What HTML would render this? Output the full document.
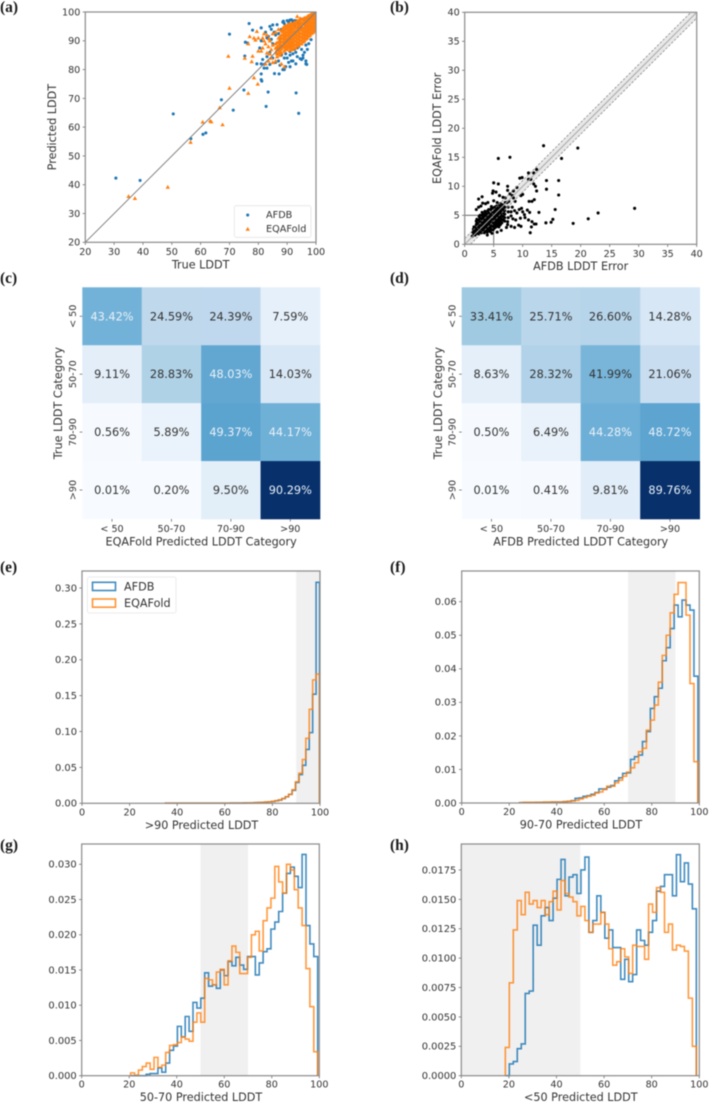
<!DOCTYPE html>
<html lang="en">
<head>
<meta charset="utf-8">
<title>LDDT comparison of AFDB and EQAFold</title>
<style>
html,body{margin:0;padding:0;background:#fff;width:709px;height:1103px;overflow:hidden}
#figure{display:block;filter:blur(0.45px)}
text{font-family:"DejaVu Sans","Liberation Sans",sans-serif;fill:#333}
.panel-tag{font-family:"Liberation Serif",serif;font-weight:bold;font-size:15.5px;fill:#1a1a1a}
</style>
</head>
<body>
<svg id="figure" xmlns="http://www.w3.org/2000/svg" width="709" height="1103" viewBox="0 0 709 1103">
<text class="panel-tag" x="0" y="12">(a)</text>
<text class="panel-tag" x="390" y="12">(b)</text>
<text class="panel-tag" x="0" y="283">(c)</text>
<text class="panel-tag" x="390" y="283">(d)</text>
<text class="panel-tag" x="0" y="572">(e)</text>
<text class="panel-tag" x="390" y="572">(f)</text>
<text class="panel-tag" x="0" y="850">(g)</text>
<text class="panel-tag" x="390" y="850">(h)</text>
</svg>
<script>
// ---------- panel (a) data: [true LDDT, predicted LDDT]
const afdbScatter = [[30.6,42.3],[39,41.5],[50.5,64.6],[56.6,56],[60.8,57.5],[61.8,58],[67.2,69.5],[71.3,65.9],[75,72.9],[82.7,67.2],[83.4,72.2],[93.1,71.9],[94,64.8],[70,92.3],[76.8,96],[78,93.7],[81,94.5],[75.5,89.5],[76.3,89.2],[75.3,84.7],[79.5,82],[81,82],[81,78.5],[81,76.5],[81.2,76],[85.6,78.6],[87.2,78.5],[88.5,80],[89,80],[91,81],[91.5,83],[93,82],[95.5,84],[96.5,82],[96.8,81.8],[94.5,83.8],[84,95],[84.5,94],[85,95.5],[85.5,93],[86,92],[86.5,95.6],[87,92.5],[87.5,91],[88,94],[88.5,96.5],[89,96],[89.5,95],[90,97],[90.5,96.5],[91,97.2],[91.5,97.3],[92,96.5],[92.5,97],[93,97],[93.5,96.3],[94,95.3],[94.5,96],[95,97.5],[96,97.5],[97,98],[98,98.3],[83,91],[82.5,93],[83.5,91.5],[84.5,90.5],[85,89],[81,90],[80.5,87.5],[81.5,83.5],[83,84.5],[84,86],[85,84],[84,81.8],[86,82.5],[87,83],[87.5,81.5],[88,85],[89,84],[89.5,85.5],[90,84],[91,85],[92,85.5],[92.5,87],[93,86],[93.5,87.5],[94,88],[95,87],[95.5,85],[96,86],[97,87],[97.5,89],[98.3,90.4],[96.5,83],[95,83.5],[93.5,84.5],[92,83],[90.5,82.5],[89.5,81],[82,80.5],[83,80.5],[82,81.8],[88.7,96.8],[90.8,95.8],[92.7,95.5],[94.8,94.6],[87.5,90],[86.5,87],[91,86.3],[96.5,88.5]];
const eqafoldOutliers = [[35,36],[37.2,35.3],[48.6,39.2],[56.5,54.8],[60.7,61.8],[63.3,62.2],[63.7,61.9],[67.6,60.9],[66.6,66.8],[69.6,84.7],[70,73.6],[75.3,84],[76.5,71.8],[76.5,89],[77,91.5],[77.7,82.8],[78,84.7],[78.5,77.2],[79.8,75],[79.5,93.3],[80,91],[80,86.5],[81,86.5],[81.5,87.5],[82,92.5],[81.5,91],[82,90],[82.5,89],[83,92],[83.5,88],[84,90],[84.5,87],[85,92.5],[85,88.5],[83,85.8],[84,85.5],[84.5,84],[83.5,83],[85,82.5],[82.5,82],[86,83],[86.5,84.5],[88,82],[89,81],[87.5,85],[88,85.8],[86,93],[87,94],[93.5,98.5],[94.5,97.8],[78.5,91],[79,90.3],[83.7,90.7]];
const eqafoldCloud = [[86,86],[86,87.5],[86,89],[87,85.8],[87,87],[87,88.2],[87,89.5],[87,91],[88,86],[88,87.2],[88,88.4],[88,89.6],[88,90.8],[88,92],[88,93.5],[89,86.5],[89,87.8],[89,89],[89,90.2],[89,91.4],[89,92.6],[89,93.8],[89,95],[90,87],[90,88.2],[90,89.4],[90,90.6],[90,91.8],[90,93],[90,94.2],[90,95.4],[91,86.8],[91,88],[91,89.2],[91,90.4],[91,91.6],[91,92.8],[91,94],[91,95.2],[91,96],[92,87],[92,88.2],[92,89.4],[92,90.6],[92,91.8],[92,93],[92,94.2],[92,95.4],[92,96],[93,87.5],[93,88.7],[93,89.9],[93,91.1],[93,92.3],[93,93.5],[93,94.7],[93,95.9],[93,96.5],[94,88.5],[94,89.7],[94,90.9],[94,92.1],[94,93.3],[94,94.5],[94,95.7],[94,97],[95,89],[95,90.2],[95,91.4],[95,92.6],[95,93.8],[95,95],[95,96.2],[95,97.5],[96,90],[96,91.2],[96,92.4],[96,93.6],[96,94.8],[96,96],[96,97.2],[96,98],[97,91],[97,92.2],[97,93.4],[97,94.6],[97,95.8],[97,97],[97,98.5],[98,92],[98,93.2],[98,94.4],[98,95.6],[98,96.8],[98,98],[98,99],[99,93],[99,94.2],[99,95.4],[99,96.6],[99,97.8],[99,99],[99,99.5],[100,94],[100,95.2],[100,96.4],[100,97.6],[100,98.8],[100,100],[86.5,85.5],[87.5,86.5],[88.5,87.8],[89.5,88.6],[90.5,89.8],[91.5,91],[92.5,92.2],[93.5,93.4],[94.5,94.6],[95.5,95.8],[96.5,97],[97.5,98.1],[98.5,99]];
const eqafoldCloudInner = [[86.5,86.8],[86.5,88],[86.5,89.4],[87.5,87.6],[87.5,88.8],[87.5,90],[87.5,91.5],[88.5,88.4],[88.5,89.6],[88.5,90.8],[88.5,92],[88.5,93.2],[88.5,94.4],[89.5,87.2],[89.5,88],[89.5,90],[89.5,91],[89.5,92],[89.5,93],[89.5,94.2],[89.5,95.2],[90.5,87.6],[90.5,88.8],[90.5,91],[90.5,92.2],[90.5,93.4],[90.5,94.6],[90.5,95.7],[91.5,87.4],[91.5,88.6],[91.5,89.8],[91.5,92.2],[91.5,93.4],[91.5,94.6],[91.5,95.8],[92.5,87.6],[92.5,88.8],[92.5,90],[92.5,91.2],[92.5,93.4],[92.5,94.6],[92.5,95.8],[92.5,96.4],[93.5,88.2],[93.5,89.4],[93.5,90.6],[93.5,91.8],[93.5,93],[93.5,94.6],[93.5,95.8],[93.5,97],[94.5,89],[94.5,90.2],[94.5,91.4],[94.5,92.6],[94.5,93.8],[94.5,95.4],[94.5,96.6],[94.5,97.4],[95.5,89.6],[95.5,90.8],[95.5,92],[95.5,93.2],[95.5,94.4],[95.5,96.4],[95.5,97.6],[96.5,90.6],[96.5,91.8],[96.5,93],[96.5,94.2],[96.5,95.4],[96.5,96.6],[96.5,98],[97.5,91.6],[97.5,92.8],[97.5,94],[97.5,95.2],[97.5,96.4],[97.5,97.5],[97.5,98.8],[98.5,92.6],[98.5,93.8],[98.5,95],[98.5,96.2],[98.5,97.4],[98.5,98.5],[98.5,99.4],[99.5,93.4],[99.5,94.6],[99.5,95.8],[99.5,97],[99.5,98.2],[99.5,99.4]];
const scatterTicksX = [20,30,40,50,60,70,80,90,100];
const scatterTicksY = [20,30,40,50,60,70,80,90,100];

// ---------- panel (b) data: [AFDB error, EQAFold error]
const errorOutliers = [[13.6,17],[19.5,16.6],[5.8,14.8],[7.8,15],[16.7,14.8],[29.3,6.2],[23,5.4],[21.3,4.4],[18.7,3.6],[15.6,6],[16.2,8.5],[16.2,11],[14.1,11],[14.1,9.5],[12.4,12.9],[11,12.3],[11.9,12.3],[9.5,11.4],[9.9,11.5],[11,11.2],[11.4,11.2],[11.9,10.4],[12.2,10],[12.4,9.2],[5,10.6],[5.8,10.4],[7.4,10],[7.4,9.3],[8.4,9.2],[9,9.8],[9.7,8.4],[10,8.6],[11.1,7.4],[11.6,7.4],[12,7.7],[12.8,5.5],[14,3.7],[14.9,3.8],[15.2,4.3],[12.3,3.5],[12,3.5],[11.5,3],[11.3,2],[2.4,7.8],[3,8.2],[3.1,7.1],[3.6,7],[4,7.2],[2.4,6.4],[4.8,8.8],[4.9,9.2],[5.4,9],[6.6,8.1],[4.6,6.5],[8.2,8.4],[7.8,8.7],[8.7,7.4],[9.4,6],[9,5.4],[9.8,6.2],[10,5.6],[10.3,5.1],[10.8,5.9],[11.2,5.5],[8,4.9],[8.3,4.4],[8.8,4.2],[9.6,4.5],[10.4,4.6],[11,4.2],[11.6,3.9],[7.4,3.4],[8,3.1],[8.6,2.9],[9.3,3.3],[9.7,3.1],[6.3,2.4],[7.2,2.9],[3.9,1.6],[4.7,1.9],[5.6,2.1],[5,7.5],[5.6,7.2],[6,8.4],[7,8],[7.3,7.2],[8.4,8],[2,6],[2.8,6.6]];
const errorCloud = [[1.3,1.4],[1.4,2.1],[1.5,2.6],[1.8,1.6],[1.9,2.2],[1.9,2.8],[2,3.4],[2,4],[2.4,1.8],[2.4,2.4],[2.4,3],[2.4,3.6],[2.4,4.2],[2.5,4.8],[2.9,2],[2.9,2.6],[2.9,3.2],[2.9,3.8],[2.9,4.4],[3,5],[3,5.5],[3.4,2],[3.4,2.6],[3.4,3.2],[3.4,3.8],[3.4,4.4],[3.5,5],[3.5,5.7],[3.9,2.1],[3.9,2.7],[3.9,3.3],[3.9,3.9],[3.9,4.5],[4,5.1],[4,5.8],[4.4,2.2],[4.4,2.8],[4.4,3.4],[4.4,4],[4.4,4.6],[4.5,5.2],[4.5,6],[4.9,2.5],[4.9,3.1],[4.9,3.7],[4.9,4.3],[4.9,4.9],[5,5.5],[5,6.2],[5.4,3],[5.4,3.6],[5.4,4.2],[5.4,4.8],[5.4,5.4],[5.5,6],[5.5,6.6],[5.9,3],[5.9,3.6],[5.9,4.2],[5.9,4.8],[5.9,5.4],[6,6],[6,6.8],[6.4,3.7],[6.4,4.3],[6.4,4.9],[6.4,5.5],[6.4,6.1],[6.5,6.8],[6.9,4],[6.9,4.6],[6.9,5.2],[6.9,5.8],[6.9,6.4],[7,7.2],[7.4,3.9],[7.5,4.6],[7.5,5.6],[7.5,6.4],[7.6,7.4],[8,5.6],[8.2,6.4],[8.6,5.8]];
const errorCloudInner = [[1.6,1.8],[1.6,2.4],[1.6,3],[2.1,1.9],[2.1,2.5],[2.1,3.1],[2.1,3.7],[2.1,4.3],[2.65,2.1],[2.65,2.7],[2.65,3.3],[2.65,3.9],[2.65,4.5],[2.65,5],[3.15,2.3],[3.15,2.9],[3.15,3.5],[3.15,4.1],[3.15,4.7],[3.15,5.3],[3.65,2.3],[3.65,2.9],[3.65,3.5],[3.65,4.1],[3.65,4.7],[3.65,5.4],[4.15,2.4],[4.15,3],[4.15,3.6],[4.15,4.2],[4.15,4.8],[4.15,5.4],[4.15,6],[4.65,2.5],[4.65,3.1],[4.65,3.7],[4.65,4.3],[4.65,4.9],[4.65,5.5],[4.65,6.2],[5.15,2.8],[5.15,3.4],[5.15,4],[5.15,4.6],[5.15,5.2],[5.15,5.8],[5.15,6.4],[5.65,3.3],[5.65,3.9],[5.65,4.5],[5.65,5.1],[5.65,5.7],[5.65,6.3],[6.15,3.4],[6.15,4],[6.15,4.6],[6.15,5.2],[6.15,5.8],[6.15,6.4],[6.15,7],[6.65,4.2],[6.65,4.8],[6.65,5.4],[6.65,6],[6.65,6.6]];
const errorTicks = [0,5,10,15,20,25,30,35,40];

// ---------- panels (c)(d) data
const categoryLabels = ["< 50","50-70","70-90",">90"];
const eqafoldMatrix = [[43.42,24.59,24.39,7.59],[9.11,28.83,48.03,14.03],[0.56,5.89,49.37,44.17],[0.01,0.20,9.50,90.29]];
const afdbMatrix = [[33.41,25.71,26.60,14.28],[8.63,28.32,41.99,21.06],[0.50,6.49,44.28,48.72],[0.01,0.41,9.81,89.76]];

// ---------- panel (e) histogram >90
const histEStart = 35, histEWidth = 1.44;
const histEAfdb = [.0001,.0001,.0001,.0001,.0001,.0001,.0001,.0001,.0001,.0001,.0001,.0001,.0001,.0001,.0002,.0002,.0002,.0002,.0002,.0003,.0003,.0004,.0004,.0005,.0006,.0007,.0008,.001,.0013,.0016,.002,.0025,.0035,.0045,.0065,.009,.0125,.018,.029,.04,.053,.075,.0985,.152,.308];
const histEEqa = [.0001,.0001,.0001,.0001,.0001,.0001,.0001,.0001,.0001,.0001,.0001,.0001,.0001,.0001,.0002,.0002,.0002,.0002,.0002,.0003,.0003,.0004,.0004,.0005,.0006,.0007,.0009,.0011,.0014,.0017,.0021,.0027,.0037,.0047,.0067,.0092,.0125,.019,.03,.042,.061,.0905,.131,.172,.18];
// ---------- panel (f) histogram 70-90
const histFStart = 24.4, histFWidth = 1.667;
const histFAfdb = [.0001,.0001,.0001,.0001,.0002,.0002,.0002,.0002,.0003,.0003,.0003,.0004,.0005,.0007,.0014,.0015,.002,.0022,.0026,.0031,.0042,.0042,.0047,.0052,.0066,.0075,.0088,.009,.013,.0138,.0143,.0183,.0213,.0282,.0317,.0342,.0424,.0463,.052,.059,.0555,.0605,.059,.0575,.0378];
const histFEqa = [.0001,.0002,.0002,.0002,.0002,.0002,.0003,.0003,.0003,.0003,.0003,.0004,.0005,.0006,.0008,.0012,.0016,.002,.0023,.003,.0033,.004,.005,.005,.006,.0068,.008,.0092,.0105,.012,.0153,.0163,.0217,.0247,.0292,.036,.044,.05,.0567,.0622,.0657,.0657,.056,.0356,.0123];
// ---------- panel (g) histogram 50-70
const histGStart = 20.6, histGWidth = 1.64;
const histGAfdb = [0,0,0,0,.0002,.0003,.0003,.0011,.0005,.0018,.0036,.0042,.007,.0055,.0084,.0063,.0104,.0096,.011,.0146,.0127,.0129,.0124,.015,.0142,.0162,.0156,.0168,.0157,.0151,.0169,.0169,.0143,.016,.0176,.018,.0208,.0218,.0233,.0259,.0287,.0296,.0283,.0267,.0314,.0213,.0187,.0169];
const histGEqa = [.0004,.0001,.0008,.0013,.0018,.0009,.0026,.0012,.0015,.0033,.0043,.0044,.0047,.0055,.0052,.0049,.0076,.0089,.0076,.0138,.0136,.0129,.0147,.0151,.0129,.0163,.0184,.0175,.0145,.0145,.0168,.02,.0205,.0177,.022,.0238,.0252,.0297,.0275,.0259,.03,.0292,.0264,.0238,.0213,.0152,.0098,.0034];
// ---------- panel (h) histogram <50
const histHStart = 18.5, histHWidth = 1.672;
const histHAfdb = [0,.001,.0012,.0023,.0027,.007,.0072,.0128,.0111,.0136,.0143,.0132,.0151,.0167,.0184,.0153,.0169,.0171,.0155,.0175,.0186,.0122,.0132,.0153,.0139,.0117,.0124,.0109,.0109,.0082,.0099,.008,.0086,.0124,.0115,.0111,.0122,.0132,.0157,.0161,.0171,.0171,.0153,.0188,.0165,.0181,.0163,.0142];
const histHEqa = [.0024,.0079,.0124,.0149,.0137,.0156,.0146,.0149,.0143,.0149,.0137,.0148,.0157,.0141,.0166,.0155,.0152,.0148,.0136,.0144,.0132,.0122,.0129,.0129,.0139,.0129,.0108,.0094,.0097,.0108,.0101,.0087,.0111,.011,.011,.0099,.0146,.0139,.016,.0156,.0122,.0129,.0107,.0111,.011,.0106,.0066,.0025];

const histTicksX = [0,20,40,60,80,100];
const histETicksY = [0,.05,.1,.15,.2,.25,.3];
const histFTicksY = [0,.01,.02,.03,.04,.05,.06];
const histGTicksY = [0,.005,.01,.015,.02,.025,.03];
const histHTicksY = [0,.0025,.005,.0075,.01,.0125,.015,.0175];
const legendNames = ["AFDB","EQAFold"];

// ---------- drawing helpers
const NS = "http://www.w3.org/2000/svg";
const root = document.getElementById("figure");
const SPINE = "#8a8a8a";
const BLUE = "#1f77b4";
const ORANGE = "#ff7f0e";
function mk(parent, tag, attrs, content) {
  const e = document.createElementNS(NS, tag);
  for (const k in attrs) e.setAttribute(k, attrs[k]);
  if (content !== undefined) e.textContent = content;
  parent.appendChild(e);
  return e;
}
function scale(d0, d1, r0, r1) { return v => r0 + (v - d0) / (d1 - d0) * (r1 - r0); }

function group(name) {
  const g = mk(root, "g", {});
  
  
  return g;
}

function axes(g, p, xs, ys, o) {
  const t = mk(g, "g", {});
  
  
  o.xTicks.forEach(v => {
    const x = xs(v);
    const tick = mk(t, "line", {x1:x, x2:x, y1:p.b, y2:p.b + 2.6, stroke:"#555", "stroke-width":.7});
    
    
    const lab = mk(t, "text", {x:x, y:o.xTickY, "text-anchor":"middle", "font-size":o.tickSize}, String(v));
    
    
  });
  o.yTicks.forEach(v => {
    const y = ys(v);
    const tick = mk(t, "line", {x1:p.l - 2.6, x2:p.l, y1:y, y2:y, stroke:"#555", "stroke-width":.7});
    
    
    const lab = mk(t, "text", {x:p.l - 5, y:y + 3.4, "text-anchor":"end", "font-size":o.yTickSize || o.tickSize}, o.yFmt(v));
    
    
  });
  const frame = mk(g, "rect", {x:p.l, y:p.t, width:p.r - p.l, height:p.b - p.t, fill:"none", stroke:SPINE, "stroke-width":1.2});
  
  
  axisTitles(g, o.xLabel, (p.l + p.r) / 2 + (o.xLabelShift || 0), o.xLabelY, o.yLabel, o.yLabelX, (p.t + p.b) / 2);
}

function axisTitles(g, xLabel, xPos, yPos, yLabel, yLabelX, yCenter) {
  const xt = mk(g, "text", {x:xPos, y:yPos, "text-anchor":"middle", "font-size":11.2}, xLabel);
  
  
  if (yLabel) {
    const yt = mk(g, "text", {x:yLabelX, y:yCenter, "text-anchor":"middle", "font-size":11.2, transform:"rotate(-90 " + yLabelX + " " + yCenter + ")"}, yLabel);
    
    
  }
}

// ---------- panel (a)
(function () {
  const p = {l:85.3, r:316, t:12, b:242.3};
  const xs = scale(20, 100, p.l, p.r), ys = scale(20, 100, p.b, p.t);
  const g = group("scatter-predicted-vs-true");
  const clip = mk(g, "clipPath", {id:"clipA"});
  mk(clip, "rect", {x:p.l, y:p.t, width:p.r - p.l, height:p.b - p.t});
  const plot = mk(g, "g", {"clip-path":"url(#clipA)"});
  
  
  afdbScatter.forEach(d => {
    const c = mk(plot, "circle", {cx:xs(d[0]), cy:ys(d[1]), r:1.55, fill:BLUE});
    
    
  });
  eqafoldOutliers.concat(eqafoldCloud, eqafoldCloudInner).forEach(d => {
    const x = xs(d[0]), y = ys(d[1]);
    const c = mk(plot, "polygon", {points:(x) + "," + (y - 2.1) + " " + (x - 2.2) + "," + (y + 1.7) + " " + (x + 2.2) + "," + (y + 1.7), fill:ORANGE});
    
    
  });
  const diag = mk(g, "line", {x1:xs(20), y1:ys(20), x2:xs(100), y2:ys(100), stroke:"#808080", "stroke-width":1});
  
  
  axes(g, p, xs, ys, {xTicks:scatterTicksX, yTicks:scatterTicksY, yFmt:String, tickSize:9.6, xTickY:255, xLabel:"True LDDT", xLabelY:268.5, yLabel:"Predicted LDDT", yLabelX:56});
  const lg = mk(g, "g", {});
  
  
  const box = mk(lg, "rect", {x:234.3, y:205.7, width:76.7, height:31.6, rx:2, fill:"#fff", stroke:"#e4e4e4", "stroke-width":.8});
  
  
  const m1 = mk(lg, "circle", {cx:247.7, cy:215, r:1.55, fill:BLUE});
  
  
  const m2 = mk(lg, "polygon", {points:"247.7,226.9 245.5,230.7 249.9,230.7", fill:ORANGE});
  
  
  const t1 = mk(lg, "text", {x:266, y:218, "font-size":9.7}, legendNames[0]);
  
  
  const t2 = mk(lg, "text", {x:266, y:232, "font-size":9.7}, legendNames[1]);
  
  
})();

// ---------- panel (b)
(function () {
  const p = {l:464.7, r:696.7, t:12.3, b:244.3};
  const xs = scale(0, 40, p.l, p.r), ys = scale(0, 40, p.b, p.t);
  const g = group("scatter-error-comparison");
  const band = mk(g, "polygon", {points:[[0,1],[39,40],[40,40],[40,39],[1,0],[0,0]].map(d => xs(d[0]) + "," + ys(d[1])).join(" "), fill:"#e8e8e8"});
  
  
  const h5 = mk(g, "line", {x1:xs(0), y1:ys(5), x2:xs(5), y2:ys(5), stroke:"#555", "stroke-width":.8});
  
  
  const v5 = mk(g, "line", {x1:xs(5), y1:ys(0), x2:xs(5), y2:ys(5), stroke:"#555", "stroke-width":.8});
  
  
  const pts = mk(g, "g", {});
  
  
  errorOutliers.concat(errorCloud, errorCloudInner).forEach(d => {
    const c = mk(pts, "circle", {cx:xs(d[0]), cy:ys(d[1]), r:1.55, fill:"#000"});
    
    
  });
  const up = mk(g, "line", {x1:xs(0), y1:ys(1), x2:xs(39), y2:ys(40), stroke:"#8a8a8a", "stroke-width":.8, "stroke-dasharray":"2.5 1.5"});
  
  
  const lo = mk(g, "line", {x1:xs(1), y1:ys(0), x2:xs(40), y2:ys(39), stroke:"#8a8a8a", "stroke-width":.8, "stroke-dasharray":"2.5 1.5"});
  
  
  const diag = mk(g, "line", {x1:xs(0), y1:ys(0), x2:xs(40), y2:ys(40), stroke:"#a8a8a8", "stroke-width":1});
  
  
  axes(g, p, xs, ys, {xTicks:errorTicks, yTicks:errorTicks, yFmt:String, tickSize:9.6, xTickY:257, xLabel:"AFDB LDDT Error", xLabelY:270, yLabel:"EQAFold LDDT Error", yLabelX:441});
})();

// ---------- panels (c)(d)
const blueStops = [[247,251,255],[222,235,247],[198,219,239],[158,202,225],[107,174,214],[66,146,198],[33,113,181],[8,81,156],[8,48,107]];
function blues(t) {
  const f = Math.max(0, Math.min(1, t)) * 8, i = Math.min(7, Math.floor(f)), w = f - i;
  const c = blueStops[i].map((v, j) => Math.round(v + (blueStops[i + 1][j] - v) * w));
  return "rgb(" + c.join(",") + ")";
}
function heatmap(name, matrix, p, xLabel, yLabelX, tickX) {
  const g = group(name);
  const xs = scale(0, 4, p.l, p.r), ys = scale(0, 4, p.t, p.b);
  const vmax = Math.max.apply(null, matrix.map(r => Math.max.apply(null, r)));
  matrix.forEach((row, r) => row.forEach((v, c) => {
    const cell = mk(g, "rect", {x:xs(c), y:ys(r), width:xs(c + 1) - xs(c) + .3, height:ys(r + 1) - ys(r) + .3, fill:blues(v / vmax)});
    
    
    const white = v / vmax > .475;
    const lab = mk(g, "text", {x:xs(c + .5), y:ys(r + .5) + 4, "text-anchor":"middle", "font-size":11.3}, v.toFixed(2) + "%");
    lab.style.fill = white ? "#e8f1f8" : "#333";
    
    
  }));
  categoryLabels.forEach((lbl, i) => {
    const x = xs(i + .5), y = ys(i + .5);
    const tx = mk(g, "line", {x1:x, x2:x, y1:p.b, y2:p.b + 2.6, stroke:"#555", "stroke-width":.7});
    
    
    const lx = mk(g, "text", {x:x, y:532, "text-anchor":"middle", "font-size":9.6}, lbl);
    
    
    const ty = mk(g, "line", {x1:p.l - 2.6, x2:p.l, y1:y, y2:y, stroke:"#555", "stroke-width":.7});
    
    
    const ly = mk(g, "text", {x:tickX, y:y, "text-anchor":"middle", "font-size":9.6, transform:"rotate(-90 " + tickX + " " + y + ")"}, lbl);
    
    
  });
  axisTitles(g, xLabel, (p.l + p.r) / 2, 545.5, "True LDDT Category", yLabelX, (p.t + p.b) / 2);
}
heatmap("confusion-matrix-eqafold", eqafoldMatrix, {l:82.3, r:320, t:287.3, b:519}, "EQAFold Predicted LDDT Category", 62, 76);
heatmap("confusion-matrix-afdb", afdbMatrix, {l:461.7, r:699.7, t:287.3, b:519}, "AFDB Predicted LDDT Category", 442, 455.5);

// ---------- panels (e)-(h)
function stepPath(values, start, width, xs, ys) {
  let d = "M" + xs(start) + " " + ys(0);
  values.forEach((v, i) => {
    d += "L" + xs(start + i * width) + " " + ys(v) + "L" + xs(start + (i + 1) * width) + " " + ys(v);
  });
  return d + "L" + xs(start + values.length * width) + " " + ys(0);
}
function histogram(name, p, yMax, band, start, width, afdb, eqa, yTicks, digits, xLabel, withLegend) {
  const g = group(name);
  const xs = scale(0, 100, p.l, p.r), ys = scale(0, yMax, p.b, p.t);
  const shade = mk(g, "rect", {x:xs(band[0]), y:p.t, width:xs(band[1]) - xs(band[0]), height:p.b - p.t, fill:"#f0f0f0"});
  
  
  const a = mk(g, "path", {d:stepPath(afdb, start, width, xs, ys), fill:"none", stroke:BLUE, "stroke-width":1.6, "stroke-opacity":.85, "stroke-linejoin":"miter"});
  
  
  const b = mk(g, "path", {d:stepPath(eqa, start, width, xs, ys), fill:"none", stroke:ORANGE, "stroke-width":1.6, "stroke-opacity":.8, "stroke-linejoin":"miter"});
  
  
  axes(g, p, xs, ys, {xTicks:histTicksX, yTicks:yTicks, yFmt:v => v.toFixed(digits), tickSize:9.6, yTickSize:9.9, xTickY:p.b + 12, xLabel:xLabel, xLabelY:p.b + 25.5, xLabelShift:.5});
  if (withLegend) {
    const lg = mk(g, "g", {});
    
    
    const box = mk(lg, "rect", {x:87.5, y:577, width:88.5, height:36, rx:2, fill:"#fff", "fill-opacity":.8, stroke:"#e6e6e6", "stroke-width":.8});
    
    
    const h1 = mk(lg, "rect", {x:92.5, y:582.3, width:23, height:8.2, fill:"none", stroke:BLUE, "stroke-width":1.6, "stroke-opacity":.85});
    
    
    const h2 = mk(lg, "rect", {x:92.5, y:599, width:23, height:8.2, fill:"none", stroke:ORANGE, "stroke-width":1.6, "stroke-opacity":.85});
    
    
    const t1 = mk(lg, "text", {x:124, y:590.3, "font-size":11.2}, legendNames[0]);
    
    
    const t2 = mk(lg, "text", {x:124, y:607, "font-size":11.2}, legendNames[1]);
    
    
  }
}
histogram("histogram-above-90", {l:82, r:320, t:571, b:803.3}, .3237, [90, 100], histEStart, histEWidth, histEAfdb, histEEqa, histETicksY, 2, ">90 Predicted LDDT", true);
histogram("histogram-70-90", {l:461.7, r:699.3, t:571, b:803}, .06915, [70, 90], histFStart, histFWidth, histFAfdb, histFEqa, histFTicksY, 2, "90-70 Predicted LDDT", false);
histogram("histogram-50-70", {l:81.7, r:319.3, t:844, b:1075.7}, .03288, [50, 70], histGStart, histGWidth, histGAfdb, histGEqa, histGTicksY, 3, "50-70 Predicted LDDT", false);
histogram("histogram-below-50", {l:461.3, r:699.3, t:844, b:1075.7}, .01971, [0, 50], histHStart, histHWidth, histHAfdb, histHEqa, histHTicksY, 4, "<50 Predicted LDDT", false);
</script>
</body>
</html>
